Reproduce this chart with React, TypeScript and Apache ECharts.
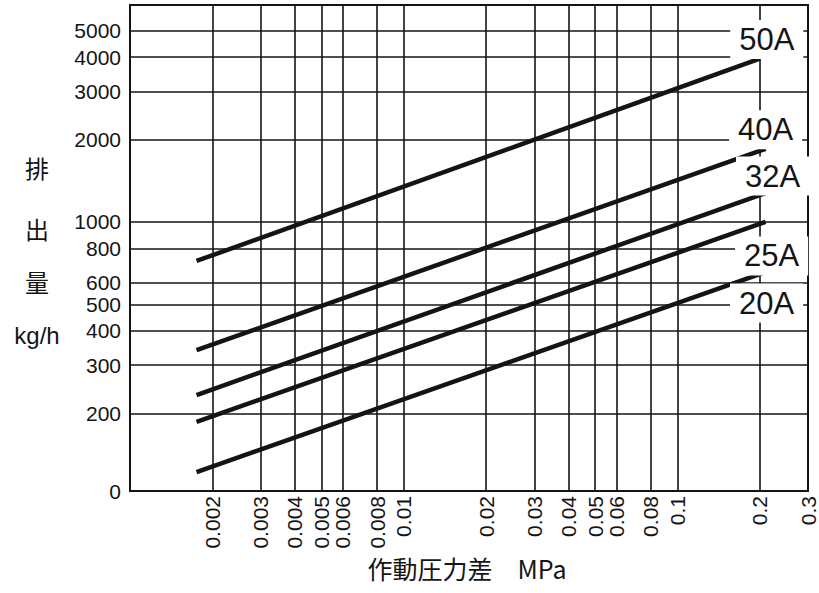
import React, { useEffect, useRef } from "react";
import * as echarts from "echarts";

// ---- data ----
const seriesNames = ["50A", "40A", "32A", "25A", "20A"];
const pressureStart = [0.00175, 0.00175, 0.00175, 0.00175, 0.00175]; // MPa
const pressureEnd = [0.2, 0.21, 0.21, 0.21, 0.21]; // MPa
const flowStart = [720, 340, 233, 186, 122]; // kg/h
const flowEnd = [3950, 1850, 1275, 1000, 656]; // kg/h

const xTickValues = [0.002, 0.003, 0.004, 0.005, 0.006, 0.008, 0.01, 0.02, 0.03, 0.04, 0.05, 0.06, 0.08, 0.1, 0.2, 0.3];
const yTickValues = [200, 300, 400, 500, 600, 800, 1000, 2000, 3000, 4000, 5000];
const xMin = 0.001;
const xMax = 0.3;
const yMin = 104; // bottom of the printed axis, labelled "0"
const yMax = 6200;
const yBottomLabel = "0";

// ---- styles ----
const INK = "#141414";
const SANS = "'Liberation Sans', Arial, sans-serif";
const CJK = "'Noto Sans CJK JP', 'Liberation Sans', sans-serif";
const labelOffsets: [number, number][] = [
  [7, -19],
  [0, -19],
  [7, -17],
  [6, 34],
  [1, 31],
];

function fmtTick(list: number[], v: number): string {
  const t = list.find((x) => Math.abs(x - v) / x < 1e-6);
  return t !== undefined ? String(t) : "";
}

export default function App() {
  const ref = useRef<HTMLDivElement>(null);
  useEffect(() => {
    if (!ref.current) return;
    const chart = echarts.init(ref.current, undefined, { renderer: "svg" });
    const option: any = {
      animation: false,
      backgroundColor: "#ffffff",
      grid: {
        left: 130,
        right: 11,
        top: 5,
        bottom: 102,
        show: true,
        borderColor: INK,
        borderWidth: 2,
        backgroundColor: "transparent",
      },
      xAxis: {
        type: "log",
        logBase: 10,
        min: xMin,
        max: xMax,
        axisLine: { show: false },
        axisTick: { show: false, customValues: xTickValues },
        splitLine: { show: true, lineStyle: { color: INK, width: 1.6 } },
        minorTick: { show: false },
        minorSplitLine: { show: false },
        axisLabel: {
          customValues: xTickValues,
          rotate: 90,
          margin: 5,
          interval: 0,
          color: INK,
          fontSize: 21,
          fontFamily: SANS,
          formatter: (v: number) => fmtTick(xTickValues, v),
        },
      },
      yAxis: {
        type: "log",
        logBase: 10,
        min: yMin,
        max: yMax,
        axisLine: { show: false },
        axisTick: { show: false, customValues: yTickValues },
        splitLine: { show: true, lineStyle: { color: INK, width: 1.6 } },
        minorTick: { show: false },
        minorSplitLine: { show: false },
        axisLabel: {
          customValues: [yMin, ...yTickValues],
          margin: 9,
          interval: 0,
          color: INK,
          fontSize: 21,
          lineHeight: 21,
          fontFamily: SANS,
          formatter: (v: number) =>
            Math.abs(v - yMin) < 1e-6 ? yBottomLabel : fmtTick(yTickValues, v),
        },
      },
      series: seriesNames.map((name, i) => ({
        type: "line",
        name,
        symbol: "circle",
        symbolSize: 0,
        showSymbol: true,
        lineStyle: { color: INK, width: 4.5 },
        itemStyle: { color: INK },
        z: 3,
        data: [
          [pressureStart[i], flowStart[i]],
          {
            value: [pressureEnd[i], flowEnd[i]],
            label: {
              show: true,
              formatter: name,
              position: "inside",
              offset: labelOffsets[i],
              align: "center",
              verticalAlign: "middle",
              color: INK,
              fontSize: 31,
              fontFamily: SANS,
              backgroundColor: "#ffffff",
              padding: [4, 9],
            },
          },
        ],
      })),
      graphic: [
        { type: "text", x: 37, y: 167, style: { text: "排", fontSize: 24, fontFamily: CJK, fill: INK, align: "center", verticalAlign: "middle" } },
        { type: "text", x: 37, y: 228, style: { text: "出", fontSize: 24, fontFamily: CJK, fill: INK, align: "center", verticalAlign: "middle" } },
        { type: "text", x: 37, y: 281, style: { text: "量", fontSize: 24, fontFamily: CJK, fill: INK, align: "center", verticalAlign: "middle" } },
        { type: "text", x: 37, y: 335, style: { text: "kg/h", fontSize: 24, fontFamily: SANS, fill: INK, align: "center", verticalAlign: "middle" } },
        { type: "text", x: 467, y: 568, style: { text: "作動圧力差　MPa", fontSize: 25, fontFamily: CJK, fill: INK, align: "center", verticalAlign: "middle" } },
      ],
    };
    chart.setOption(option);
    return () => chart.dispose();
  }, []);
  return (
    <div
      ref={ref}
      style={{ position: "fixed", left: 0, top: 0, width: 819, height: 593, background: "#fff" }}
    />
  );
}
